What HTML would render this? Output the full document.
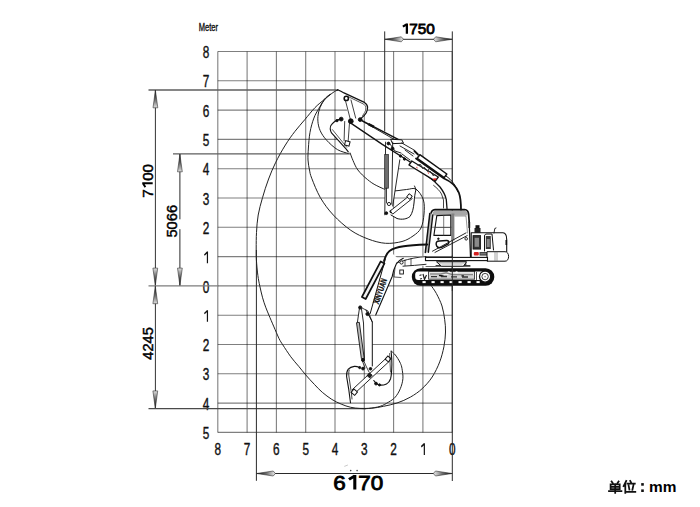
<!DOCTYPE html>
<html><head><meta charset="utf-8"><style>
html,body{margin:0;padding:0;background:#fff;}
svg{display:block;font-family:"Liberation Sans",sans-serif;}
</style></head><body>
<svg width="700" height="507" viewBox="0 0 700 507">
<defs><linearGradient id="ag" gradientUnits="userSpaceOnUse" x1="0" y1="0" x2="-17" y2="0"><stop offset="0" stop-color="#111"/><stop offset="0.45" stop-color="#555"/><stop offset="1" stop-color="#d8d8d8"/></linearGradient></defs>
<rect width="700" height="507" fill="#fff"/>
<line x1="452.20" y1="51.50" x2="452.20" y2="432.40" stroke="#000" stroke-opacity="0.5" stroke-width="1.1"/>
<line x1="422.90" y1="51.50" x2="422.90" y2="432.40" stroke="#000" stroke-opacity="0.5" stroke-width="1.1"/>
<line x1="393.60" y1="51.50" x2="393.60" y2="432.40" stroke="#000" stroke-opacity="0.5" stroke-width="1.1"/>
<line x1="364.30" y1="51.50" x2="364.30" y2="432.40" stroke="#000" stroke-opacity="0.5" stroke-width="1.1"/>
<line x1="335.00" y1="51.50" x2="335.00" y2="432.40" stroke="#000" stroke-opacity="0.5" stroke-width="1.1"/>
<line x1="305.70" y1="51.50" x2="305.70" y2="432.40" stroke="#000" stroke-opacity="0.5" stroke-width="1.1"/>
<line x1="276.40" y1="51.50" x2="276.40" y2="432.40" stroke="#000" stroke-opacity="0.5" stroke-width="1.1"/>
<line x1="247.10" y1="51.50" x2="247.10" y2="432.40" stroke="#000" stroke-opacity="0.5" stroke-width="1.1"/>
<line x1="217.80" y1="51.50" x2="217.80" y2="432.40" stroke="#000" stroke-opacity="0.5" stroke-width="1.1"/>
<line x1="217.80" y1="51.50" x2="452.20" y2="51.50" stroke="#000" stroke-opacity="0.5" stroke-width="1.1"/>
<line x1="217.80" y1="80.80" x2="452.20" y2="80.80" stroke="#000" stroke-opacity="0.5" stroke-width="1.1"/>
<line x1="217.80" y1="110.10" x2="452.20" y2="110.10" stroke="#000" stroke-opacity="0.5" stroke-width="1.1"/>
<line x1="217.80" y1="139.40" x2="452.20" y2="139.40" stroke="#000" stroke-opacity="0.5" stroke-width="1.1"/>
<line x1="217.80" y1="168.70" x2="452.20" y2="168.70" stroke="#000" stroke-opacity="0.5" stroke-width="1.1"/>
<line x1="217.80" y1="198.00" x2="452.20" y2="198.00" stroke="#000" stroke-opacity="0.5" stroke-width="1.1"/>
<line x1="217.80" y1="227.30" x2="452.20" y2="227.30" stroke="#000" stroke-opacity="0.5" stroke-width="1.1"/>
<line x1="217.80" y1="256.60" x2="452.20" y2="256.60" stroke="#000" stroke-opacity="0.5" stroke-width="1.1"/>
<line x1="217.80" y1="285.90" x2="452.20" y2="285.90" stroke="#000" stroke-opacity="0.5" stroke-width="1.1"/>
<line x1="217.80" y1="315.20" x2="452.20" y2="315.20" stroke="#000" stroke-opacity="0.5" stroke-width="1.1"/>
<line x1="217.80" y1="344.50" x2="452.20" y2="344.50" stroke="#000" stroke-opacity="0.5" stroke-width="1.1"/>
<line x1="217.80" y1="373.80" x2="452.20" y2="373.80" stroke="#000" stroke-opacity="0.5" stroke-width="1.1"/>
<line x1="217.80" y1="403.10" x2="452.20" y2="403.10" stroke="#000" stroke-opacity="0.5" stroke-width="1.1"/>
<line x1="217.80" y1="432.40" x2="452.20" y2="432.40" stroke="#000" stroke-opacity="0.5" stroke-width="1.1"/>
<g transform="translate(206.00,58.17) scale(0.72,1)"><text x="-4.56" y="0" font-size="16.4" font-weight="normal" fill="#111" stroke="#111" stroke-width="0.4">8</text></g>
<g transform="translate(206.00,87.47) scale(0.72,1)"><text x="-4.56" y="0" font-size="16.4" font-weight="normal" fill="#111" stroke="#111" stroke-width="0.4">7</text></g>
<g transform="translate(206.00,116.77) scale(0.72,1)"><text x="-4.56" y="0" font-size="16.4" font-weight="normal" fill="#111" stroke="#111" stroke-width="0.4">6</text></g>
<g transform="translate(206.00,146.07) scale(0.72,1)"><text x="-4.56" y="0" font-size="16.4" font-weight="normal" fill="#111" stroke="#111" stroke-width="0.4">5</text></g>
<g transform="translate(206.00,175.37) scale(0.72,1)"><text x="-4.56" y="0" font-size="16.4" font-weight="normal" fill="#111" stroke="#111" stroke-width="0.4">4</text></g>
<g transform="translate(206.00,204.67) scale(0.72,1)"><text x="-4.56" y="0" font-size="16.4" font-weight="normal" fill="#111" stroke="#111" stroke-width="0.4">3</text></g>
<g transform="translate(206.00,233.97) scale(0.72,1)"><text x="-4.56" y="0" font-size="16.4" font-weight="normal" fill="#111" stroke="#111" stroke-width="0.4">2</text></g>
<g transform="translate(206.00,263.27) scale(0.72,1)"><path d="M2.00,0 V-11.74 M2.00,-11.25 L-2.26,-8.20" stroke="#111" stroke-width="1.65" fill="none" stroke-linecap="butt" stroke-linejoin="round"/></g>
<g transform="translate(206.00,292.57) scale(0.72,1)"><text x="-4.56" y="0" font-size="16.4" font-weight="normal" fill="#111" stroke="#111" stroke-width="0.4">0</text></g>
<g transform="translate(206.00,321.87) scale(0.72,1)"><path d="M2.00,0 V-11.74 M2.00,-11.25 L-2.26,-8.20" stroke="#111" stroke-width="1.65" fill="none" stroke-linecap="butt" stroke-linejoin="round"/></g>
<g transform="translate(206.00,351.17) scale(0.72,1)"><text x="-4.56" y="0" font-size="16.4" font-weight="normal" fill="#111" stroke="#111" stroke-width="0.4">2</text></g>
<g transform="translate(206.00,380.47) scale(0.72,1)"><text x="-4.56" y="0" font-size="16.4" font-weight="normal" fill="#111" stroke="#111" stroke-width="0.4">3</text></g>
<g transform="translate(206.00,409.77) scale(0.72,1)"><text x="-4.56" y="0" font-size="16.4" font-weight="normal" fill="#111" stroke="#111" stroke-width="0.4">4</text></g>
<g transform="translate(206.00,439.07) scale(0.72,1)"><text x="-4.56" y="0" font-size="16.4" font-weight="normal" fill="#111" stroke="#111" stroke-width="0.4">5</text></g>
<g transform="translate(452.20,454.97) scale(0.72,1)"><text x="-4.56" y="0" font-size="16.4" font-weight="normal" fill="#111" stroke="#111" stroke-width="0.4">0</text></g>
<g transform="translate(422.90,454.97) scale(0.72,1)"><path d="M2.00,0 V-11.74 M2.00,-11.25 L-2.26,-8.20" stroke="#111" stroke-width="1.65" fill="none" stroke-linecap="butt" stroke-linejoin="round"/></g>
<g transform="translate(393.60,454.97) scale(0.72,1)"><text x="-4.56" y="0" font-size="16.4" font-weight="normal" fill="#111" stroke="#111" stroke-width="0.4">2</text></g>
<g transform="translate(364.30,454.97) scale(0.72,1)"><text x="-4.56" y="0" font-size="16.4" font-weight="normal" fill="#111" stroke="#111" stroke-width="0.4">3</text></g>
<g transform="translate(335.00,454.97) scale(0.72,1)"><text x="-4.56" y="0" font-size="16.4" font-weight="normal" fill="#111" stroke="#111" stroke-width="0.4">4</text></g>
<g transform="translate(305.70,454.97) scale(0.72,1)"><text x="-4.56" y="0" font-size="16.4" font-weight="normal" fill="#111" stroke="#111" stroke-width="0.4">5</text></g>
<g transform="translate(276.40,454.97) scale(0.72,1)"><text x="-4.56" y="0" font-size="16.4" font-weight="normal" fill="#111" stroke="#111" stroke-width="0.4">6</text></g>
<g transform="translate(247.10,454.97) scale(0.72,1)"><text x="-4.56" y="0" font-size="16.4" font-weight="normal" fill="#111" stroke="#111" stroke-width="0.4">7</text></g>
<g transform="translate(217.80,454.97) scale(0.72,1)"><text x="-4.56" y="0" font-size="16.4" font-weight="normal" fill="#111" stroke="#111" stroke-width="0.4">8</text></g>
<text transform="translate(208.40,30.75) scale(0.74,1)" text-anchor="middle" font-size="10.2" font-weight="normal" fill="#111" stroke="#111" stroke-width="0.35">Meter</text>
<line x1="148.5" y1="90.0" x2="338" y2="90.0" stroke="#5e5e5e" stroke-width="1.3"/>
<line x1="155.4" y1="90" x2="155.4" y2="408.7" stroke="#333" stroke-width="1.0"/>
<g transform="translate(155.4,90.3) rotate(-90.0)"><polygon points="0,0 -17.50,2.4 -17.50,-2.4" fill="url(#ag)" stroke="#333" stroke-width="0.6" stroke-linejoin="round"/></g>
<g transform="translate(155.3,285.6) rotate(90.0)"><polygon points="0,0 -17.50,2.4 -17.50,-2.4" fill="url(#ag)" stroke="#333" stroke-width="0.6" stroke-linejoin="round"/></g>
<line x1="173" y1="153.8" x2="350" y2="153.8" stroke="#5e5e5e" stroke-width="1.3"/>
<line x1="179.9" y1="154" x2="179.9" y2="219.3" stroke="#2a2a2a" stroke-width="1.0"/>
<line x1="179.9" y1="229.2" x2="179.9" y2="286" stroke="#2a2a2a" stroke-width="1.0"/>
<g transform="translate(179.9,154.3) rotate(-90.0)"><polygon points="0,0 -17.50,2.4 -17.50,-2.4" fill="url(#ag)" stroke="#333" stroke-width="0.6" stroke-linejoin="round"/></g>
<g transform="translate(179.9,285.6) rotate(90.0)"><polygon points="0,0 -17.50,2.4 -17.50,-2.4" fill="url(#ag)" stroke="#333" stroke-width="0.6" stroke-linejoin="round"/></g>
<line x1="148.5" y1="285.9" x2="217.8" y2="285.9" stroke="#7d7d7d" stroke-width="1.2"/>
<g transform="translate(155.3,286.2) rotate(-90.0)"><polygon points="0,0 -17.50,2.4 -17.50,-2.4" fill="url(#ag)" stroke="#333" stroke-width="0.6" stroke-linejoin="round"/></g>
<g transform="translate(155.3,408.4) rotate(90.0)"><polygon points="0,0 -17.50,2.4 -17.50,-2.4" fill="url(#ag)" stroke="#333" stroke-width="0.6" stroke-linejoin="round"/></g>
<line x1="148.5" y1="408.7" x2="366" y2="408.7" stroke="#4a4a4a" stroke-width="1.3"/>
<line x1="384.7" y1="31.4" x2="384.7" y2="131.5" stroke="#2a2a2a" stroke-width="1.0"/>
<line x1="452.3" y1="31.4" x2="452.3" y2="481" stroke="#2a2a2a" stroke-width="1.0"/>
<line x1="384.7" y1="39.3" x2="452.3" y2="39.3" stroke="#2a2a2a" stroke-width="1.0"/>
<g transform="translate(385.0,39.3) rotate(180.0)"><polygon points="0,0 -16.30,2.5 -18.50,0 -16.30,-2.5" fill="url(#ag)" stroke="#333" stroke-width="0.6" stroke-linejoin="round"/></g>
<g transform="translate(452.0,39.3) rotate(0.0)"><polygon points="0,0 -16.30,2.5 -18.50,0 -16.30,-2.5" fill="url(#ag)" stroke="#333" stroke-width="0.6" stroke-linejoin="round"/></g>
<line x1="256.4" y1="250" x2="256.4" y2="480.8" stroke="#2a2a2a" stroke-width="1.0"/>
<line x1="256.4" y1="473.5" x2="452.3" y2="473.5" stroke="#2a2a2a" stroke-width="1.0"/>
<g transform="translate(256.7,473.5) rotate(180.0)"><polygon points="0,0 -16.50,2.5 -18.70,0 -16.50,-2.5" fill="url(#ag)" stroke="#333" stroke-width="0.6" stroke-linejoin="round"/></g>
<g transform="translate(452.0,473.5) rotate(0.0)"><polygon points="0,0 -16.50,2.5 -18.70,0 -16.50,-2.5" fill="url(#ag)" stroke="#333" stroke-width="0.6" stroke-linejoin="round"/></g>
<g transform="translate(417.80,33.70) scale(1.08,1)"><path d="M-10.11,0 V-10.17 M-10.11,-9.54 L-13.80,-7.10" stroke="#000" stroke-width="2.10" fill="none" stroke-linecap="butt" stroke-linejoin="round"/><text x="-7.90" y="0" font-size="14.2" font-weight="normal" fill="#000" stroke="#000" stroke-width="0.75">7</text><text x="0.00" y="0" font-size="14.2" font-weight="normal" fill="#000" stroke="#000" stroke-width="0.75">5</text><text x="7.90" y="0" font-size="14.2" font-weight="normal" fill="#000" stroke="#000" stroke-width="0.75">0</text></g>
<g transform="translate(358.30,489.60) scale(1.1,1)"><text x="-22.68" y="0" font-size="20.4" font-weight="normal" fill="#000" stroke="#000" stroke-width="0.85">6</text><path d="M-3.18,0 V-14.61 M-3.18,-13.77 L-8.49,-10.20" stroke="#000" stroke-width="2.79" fill="none" stroke-linecap="butt" stroke-linejoin="round"/><text x="0.00" y="0" font-size="20.4" font-weight="normal" fill="#000" stroke="#000" stroke-width="0.85">7</text><text x="11.34" y="0" font-size="20.4" font-weight="normal" fill="#000" stroke="#000" stroke-width="0.85">0</text></g>
<g transform="translate(152.70,180.85) rotate(-90) scale(1.04,1)"><text x="-16.24" y="0" font-size="14.6" font-weight="normal" fill="#000" stroke="#000" stroke-width="0.45">7</text><path d="M-2.28,0 V-10.45 M-2.28,-9.90 L-6.07,-7.30" stroke="#000" stroke-width="1.84" fill="none" stroke-linecap="butt" stroke-linejoin="round"/><text x="0.00" y="0" font-size="14.6" font-weight="normal" fill="#000" stroke="#000" stroke-width="0.45">0</text><text x="8.12" y="0" font-size="14.6" font-weight="normal" fill="#000" stroke="#000" stroke-width="0.45">0</text></g>
<g transform="translate(177.30,221.25) rotate(-90) scale(1.05,1)"><text x="-15.57" y="0" font-size="14.0" font-weight="normal" fill="#000" stroke="#000" stroke-width="0.45">5</text><text x="-7.78" y="0" font-size="14.0" font-weight="normal" fill="#000" stroke="#000" stroke-width="0.45">0</text><text x="0.00" y="0" font-size="14.0" font-weight="normal" fill="#000" stroke="#000" stroke-width="0.45">6</text><text x="7.78" y="0" font-size="14.0" font-weight="normal" fill="#000" stroke="#000" stroke-width="0.45">6</text></g>
<g transform="translate(152.70,343.45) rotate(-90)"><text x="-16.24" y="0" font-size="14.6" font-weight="normal" fill="#000" stroke="#000" stroke-width="0.45">4</text><text x="-8.12" y="0" font-size="14.6" font-weight="normal" fill="#000" stroke="#000" stroke-width="0.45">2</text><text x="0.00" y="0" font-size="14.6" font-weight="normal" fill="#000" stroke="#000" stroke-width="0.45">4</text><text x="8.12" y="0" font-size="14.6" font-weight="normal" fill="#000" stroke="#000" stroke-width="0.45">5</text></g>
<text x="649.0" y="491.6" font-size="15.4" font-weight="bold" fill="#000" text-anchor="start">mm</text>
<g stroke="#111" stroke-width="1.75" fill="none" stroke-linecap="square"><path d="M611.6,481.4 L612.8,483.2 M618.6,481.4 L617.4,483.2"/><path d="M610.6,484.4 H619.7 V489.1 H610.6 Z M610.6,486.8 H619.7"/><path d="M609,491 H621.4 M615.2,484.4 V492.8"/><path d="M626.2,481 L623.6,486.2 M625.3,484.2 V492.9"/><path d="M630.2,480.8 L630.9,482.2 M627.4,483.5 H634.8 M628.6,485.4 L629.4,489.6 M633.4,485.2 L632.4,489.8 M626.9,491.8 H635.3"/></g>
<rect x="641.2" y="483.1" width="2.6" height="2.6" fill="#111"/><rect x="641.2" y="489.4" width="2.6" height="2.6" fill="#111"/>
<path d="M338.6,90.0 C338.0,90.2 336.3,90.4 334.7,91.4 C333.1,92.4 330.8,94.2 328.8,95.8 C326.8,97.3 325.1,98.7 322.8,100.7 C320.5,102.7 318.0,104.5 315.0,107.6 C312.0,110.7 308.3,115.5 305.0,119.4 C301.7,123.4 298.3,127.0 295.0,131.3 C291.7,135.6 288.6,139.8 285.4,145.0 C282.1,150.2 278.3,157.1 275.5,162.8 C272.7,168.5 270.8,173.2 268.6,179.0 C266.4,184.8 264.2,191.7 262.5,197.7 C260.8,203.7 259.2,209.2 258.2,215.0 C257.2,220.8 256.8,226.9 256.5,232.4 C256.2,237.9 256.2,243.4 256.2,248.0 C256.2,252.6 256.1,255.4 256.4,260.0 C256.7,264.6 257.3,271.4 257.9,275.7 C258.5,280.0 259.0,282.3 259.8,286.0 C260.6,289.7 261.6,294.3 262.6,297.8 C263.6,301.3 264.6,304.3 265.7,307.2 C266.8,310.1 267.6,312.0 268.9,315.1 C270.2,318.2 271.9,322.2 273.6,326.1 C275.3,330.0 277.6,335.6 279.1,338.7 C280.7,341.8 280.9,342.0 282.9,345.0 C284.8,348.0 288.2,353.2 290.8,356.8 C293.4,360.4 296.2,363.3 298.7,366.3 C301.2,369.3 303.2,372.0 305.8,375.0 C308.4,378.0 311.6,381.5 314.4,384.4 C317.1,387.3 319.4,389.8 322.3,392.3 C325.2,394.8 328.7,397.4 331.8,399.4 C334.9,401.4 338.1,402.8 341.2,404.1 C344.3,405.4 347.6,406.6 350.7,407.3 C353.8,408.0 356.5,408.2 360.0,408.4 C363.5,408.5 367.9,408.5 371.8,408.2 C375.7,407.9 379.3,407.2 383.5,406.3 C387.7,405.4 392.5,404.5 397.0,403.0 C401.5,401.5 406.2,399.5 410.4,397.1 C414.6,394.7 418.5,392.1 422.1,388.7 C425.7,385.3 429.3,381.5 432.2,377.0 C435.1,372.5 437.8,366.9 439.7,361.9 C441.6,356.9 442.9,351.8 443.9,346.8 C444.9,341.8 445.4,336.5 445.5,332.0 C445.6,327.5 445.3,324.0 444.7,319.7 C444.1,315.4 443.4,310.4 442.0,306.0 C440.6,301.6 438.2,297.0 436.4,293.5 C434.5,290.0 431.8,286.6 430.9,285.2" fill="none" stroke="#222" stroke-width="1"/>
<path d="M330.5,94.0 C329.9,94.5 327.8,95.9 326.6,97.0 C325.4,98.1 324.7,98.8 323.4,100.8 C322.1,102.8 320.3,105.8 318.7,108.7 C317.1,111.6 315.3,114.2 313.9,118.1 C312.4,122.0 310.9,127.3 310.0,132.3 C309.1,137.3 308.7,143.4 308.4,148.0 C308.1,152.6 307.8,156.3 308.0,160.0 C308.2,163.7 308.9,167.0 309.5,170.0 C310.1,173.0 309.9,173.6 311.7,178.2 C313.5,182.8 316.8,191.5 320.4,197.7 C324.0,203.8 328.3,209.7 333.4,215.1 C338.5,220.5 345.0,226.3 350.8,230.3 C356.6,234.3 362.3,236.8 368.1,239.0 C373.9,241.2 379.9,242.9 385.5,243.3 C391.1,243.7 397.4,242.7 402.0,241.5 C406.6,240.3 409.8,238.2 413.0,236.0 C416.2,233.8 419.2,231.7 421.0,228.0 C422.8,224.3 423.6,218.7 424.0,214.0 C424.4,209.3 424.7,204.1 423.4,200.0 C422.1,195.9 418.8,190.9 416.0,189.2 C413.2,187.4 410.8,189.2 406.6,189.5 C402.4,189.8 395.8,191.4 390.8,190.8 C385.8,190.2 380.7,187.6 376.8,185.7 C372.9,183.8 370.5,182.0 367.3,179.4 C364.1,176.8 360.3,173.2 357.9,170.0 C355.5,166.8 354.3,163.4 353.0,160.5 C351.7,157.6 350.5,153.9 350.0,152.6" fill="none" stroke="#222" stroke-width="1"/>
<path d="M330.5,94.5 C329.9,95.0 328.1,95.9 326.6,97.5 C325.2,99.1 323.1,101.5 321.8,103.9 C320.5,106.3 319.4,108.9 318.7,111.8 C318.0,114.7 317.6,118.1 317.9,121.2 C318.1,124.3 318.8,127.5 320.2,130.7 C321.6,133.9 323.7,137.0 326.6,140.2 C329.5,143.4 333.9,147.5 337.6,149.7 C341.3,151.9 346.8,152.9 348.6,153.6" fill="none" stroke="#222" stroke-width="1"/>
<path d="M391.1,351.0 C391.7,351.5 393.4,352.8 394.5,354.0 C395.6,355.2 396.8,356.9 397.8,358.5 C398.8,360.1 399.8,361.8 400.5,363.5 C401.2,365.2 401.6,366.1 402.0,368.6 C402.4,371.1 403.2,375.4 402.9,378.7 C402.6,382.0 401.6,385.6 400.3,388.7 C399.0,391.8 397.2,394.9 395.3,397.1 C393.4,399.3 391.1,400.6 388.6,402.1 C386.1,403.6 383.6,405.2 380.2,406.3 C376.8,407.4 371.8,408.1 368.4,408.5 C365.0,408.9 361.4,408.5 360.0,408.5" fill="none" stroke="#222" stroke-width="1"/>
<polygon points="401,140.6 417,154.8 446,175.4 453,183.4 458.4,195.8 459.6,210 447,210 446.3,199.6 440,187 428.3,176.5 409.4,161.5 398,154" fill="#fff" stroke="none"/>
<polygon points="337.6,89.7 344,92.9 364.4,102.4 367.6,107.6 366.3,112.8 360.5,118.9 350.8,121.2 345,104 340,93" fill="#fff" stroke="none"/>
<polygon points="341.2,119.1 336.4,120.5 331.5,124.6 330.2,128.8 331.5,132.9 346,148.8 348.3,151.8 350.5,147 351.5,122.5 346,120" fill="#fff" stroke="none"/>
<polygon points="385,142 393.5,142 400.5,157 392.5,206 394.5,216 385,216" fill="#fff" stroke="none"/>
<polygon points="416,189.5 414.5,197.4 412.9,210 410,216.5 404,219.5 397,218.5 391,215 411,197" fill="#fff" stroke="none"/>
<polygon points="389.5,251 386.4,254.3 384,261 380.5,266 363,297 360,305 361,312 370.2,313.5 375.7,315 392.3,276.2 395,268 398.6,261.4 396.4,257" fill="#fff" stroke="none"/>
<polygon points="398.6,261.4 406.4,258.2 425,255.7 425,265.7 399.3,265.7" fill="#fff" stroke="none"/>
<polygon points="359.7,306.5 357.5,321.7 362.3,358.5 365,366 372.3,368 372.3,322 366,310" fill="#fff" stroke="none"/>
<path d="M350.8,123.1 L382.3,144.4 L409.4,161.5 L428.3,176.5 C433,180 437.1,183.6 440,187 C443,191 445.5,195 446.3,199.6 L447,208.5" fill="none" stroke="#111" stroke-width="1.3" stroke-linejoin="round" stroke-linecap="round" />
<path d="M433.6,185.4 C437,188 440,191 441.5,194 L443.5,200 L443.5,208" fill="none" stroke="#111" stroke-width="0.8" stroke-linejoin="round" stroke-linecap="round" />
<path d="M360,119.6 L401,140.8" fill="none" stroke="#111" stroke-width="1.5" stroke-linejoin="round" stroke-linecap="round" />
<path d="M362.6,121.3 L398.7,142" fill="none" stroke="#111" stroke-width="0.9" stroke-linejoin="round" stroke-linecap="round" />
<path d="M369,123 L374.5,125.8 L373.5,128 L368,125.2 Z" fill="#111"/>
<path d="M391,139.3 L401.8,139.8 L403.5,143.2 L393,143.6 Z" fill="#fff" stroke="#111" stroke-width="1.0" stroke-linejoin="round" stroke-linecap="round" />
<path d="M401.8,143 L414.4,150.2 M400,146 L414,154" fill="none" stroke="#111" stroke-width="0.9" stroke-linejoin="round" stroke-linecap="round" />
<path d="M390,144 L395,151 L401,153" fill="none" stroke="#111" stroke-width="0.9" stroke-linejoin="round" stroke-linecap="round" />
<circle cx="392.5" cy="148.5" r="1.5" fill="#111" stroke="#111" stroke-width="0.9"/>
<polygon points="417.2,158.3 444.2,177.6 446.8,174.0 419.8,154.7" fill="#fff" stroke="#111" stroke-width="1.5" stroke-linejoin="round"/>
<path d="M414.4,151 L418,154.5 M416,158.5 L444,178.5 C450,181 456,186 458.8,192.5 C460.5,197 461,203 461,210" fill="none" stroke="#111" stroke-width="1.8" stroke-linejoin="round" stroke-linecap="round" />
<path d="M446,176 C452,180 456,186 458,192" fill="none" stroke="#111" stroke-width="1.0" stroke-linejoin="round" stroke-linecap="round" />
<circle cx="400.5" cy="156" r="1.2" fill="#111" stroke="#111" stroke-width="0.9"/>
<circle cx="404.5" cy="159" r="1.2" fill="#111" stroke="#111" stroke-width="0.9"/>
<polygon points="411.8,161 438.3,177 435.3,181.2 409,165" fill="#fff" stroke="#111" stroke-width="1.4" stroke-linejoin="round"/>
<path d="M417,165 L420.5,164.5 L423,169 M424,167 L427.5,171.5 L429,169 M430,171 L433.5,176 L435,174" stroke="#333" stroke-width="1.0" fill="none"/>
<path d="M433.2,179.4 L436.2,179.2" stroke="#e02020" stroke-width="1.8"/>
<path d="M416.3,167.2 L417.6,168 M427.8,172.6 L429,173.4" stroke="#e02020" stroke-width="1.0"/>
<path d="M405,150 L413,156 M402,154 L410,160" fill="none" stroke="#111" stroke-width="0.9" stroke-linejoin="round" stroke-linecap="round" />
<path d="M337.6,89.7 C339.5,90.5 341.8,91.6 344,92.9 L364.4,102.4 C366.5,103.8 367.8,105.5 367.6,107.6 C367.5,110 367,111.5 366.3,112.8 C365.3,114.6 363.6,116.5 360.5,118.9" fill="none" stroke="#111" stroke-width="1.2" stroke-linejoin="round" stroke-linecap="round" />
<path d="M348.6,96.8 L363.8,104.2 C365.3,105.5 366,107 365.8,109 C365.5,111.5 364.3,113.5 362.6,115.5" fill="none" stroke="#111" stroke-width="0.7" stroke-linejoin="round" stroke-linecap="round" />
<path d="M345.5,100.8 L350.2,118.9 M351,100 L355.7,118.1" fill="none" stroke="#111" stroke-width="0.8" stroke-linejoin="round" stroke-linecap="round" />
<circle cx="346.3" cy="98.4" r="2.1" fill="#fff" stroke="#111" stroke-width="1.6"/>
<circle cx="350.8" cy="121.2" r="2.4" fill="#111" stroke="#111" stroke-width="0.9"/>
<circle cx="337" cy="120.6" r="1.2" fill="#111" stroke="#111" stroke-width="0.9"/>
<circle cx="360.2" cy="119.6" r="1.9" fill="#111" stroke="#111" stroke-width="0.9"/>
<path d="M341.2,119.1 C339.5,119.4 338,119.8 336.4,120.5 C334.5,121.5 332.8,123 331.5,124.6 C330.3,126 330,127.5 330.2,128.8 C330.4,130.3 330.8,131.6 331.5,132.9 L346,148.8 L348.3,151.8" fill="none" stroke="#111" stroke-width="1.1" stroke-linejoin="round" stroke-linecap="round" />
<path d="M332.4,129.6 L346.7,147.2" fill="none" stroke="#111" stroke-width="0.7" stroke-linejoin="round" stroke-linecap="round" />
<path d="M344.7,121.5 L344.1,140.8 M349.5,122.8 L348.2,140.8" fill="none" stroke="#111" stroke-width="0.8" stroke-linejoin="round" stroke-linecap="round" />
<rect x="345" y="141.2" width="4.6" height="4.4" fill="#fff" stroke="#111" stroke-width="1" transform="rotate(15 347.3 143.4)"/>
<circle cx="341.2" cy="119.1" r="1.9" fill="#111" stroke="#111" stroke-width="0.9"/>
<path d="M385.6,142.1 L384.8,214.8" fill="none" stroke="#111" stroke-width="0.9" stroke-linejoin="round" stroke-linecap="round" />
<path d="M392.7,142.1 L391.8,204.2" fill="none" stroke="#111" stroke-width="0.9" stroke-linejoin="round" stroke-linecap="round" />
<rect x="384.7" y="154.5" width="3.7" height="33.7" fill="#6e6e6e" stroke="#222" stroke-width="0.7"/>
<path d="M386.5,188.2 L386.5,203" fill="none" stroke="#111" stroke-width="0.8" stroke-linejoin="round" stroke-linecap="round" />
<path d="M399.8,159.8 L392.7,206" fill="none" stroke="#111" stroke-width="0.9" stroke-linejoin="round" stroke-linecap="round" />
<circle cx="389" cy="204" r="1.6" fill="#fff" stroke="#111" stroke-width="0.9"/>
<circle cx="386.3" cy="213.2" r="1.4" fill="#111" stroke="#111" stroke-width="0.9"/>
<circle cx="391.2" cy="211.5" r="1.3" fill="#111" stroke="#111" stroke-width="0.9"/>
<circle cx="388.5" cy="143.5" r="1.4" fill="#111" stroke="#111" stroke-width="0.9"/>
<polygon points="392.7,214.1 412.2,198.6 409.8,195.4 390.3,210.9" fill="#fff" stroke="#111" stroke-width="0.9" stroke-linejoin="round"/>
<path d="M416,189.5 C415,193 414.5,197 414,203 C413.5,208 412.5,213 410,216.5 C407,219 402,220 397,218.5 L391,215" fill="none" stroke="#111" stroke-width="1.0" stroke-linejoin="round" stroke-linecap="round" />
<rect x="407.5" y="194.5" width="4" height="4" fill="#fff" stroke="#111" stroke-width="0.9" transform="rotate(35 409.5 196.5)"/>
<path d="M416,189.5 L414.5,186" fill="none" stroke="#111" stroke-width="0.9" stroke-linejoin="round" stroke-linecap="round" />
<path d="M432.5,213 C433,211.3 434,210.6 436,210.5 L464,210.3 C466,210.4 467,211.5 467.5,213.5 L467.2,215.5 L433.5,215.5 Z" fill="#a8a8a8"/>
<path d="M430.8,214.5 C431.2,211 432.5,209.8 435,209.7 L464.5,209.5 C467,209.6 468.3,211 468.6,214 L469.2,222" fill="none" stroke="#111" stroke-width="1.7" stroke-linejoin="round" stroke-linecap="round" />
<path d="M469.2,222 L470.5,257" fill="none" stroke="#111" stroke-width="1.2" stroke-linejoin="round" stroke-linecap="round" />
<path d="M429.5,213 L432.6,214 L428.2,252.5 L425.2,252.5 Z" fill="#bbb"/>
<path d="M429.8,213.5 L425.3,252.5" fill="none" stroke="#111" stroke-width="1.5" stroke-linejoin="round" stroke-linecap="round" />
<path d="M432.8,215 L428.4,252.2" fill="none" stroke="#111" stroke-width="1.4" stroke-linejoin="round" stroke-linecap="round" />
<path d="M436.8,215.6 L450.8,215 L450.8,235.4 L433.9,235.4 Z" fill="none" stroke="#111" stroke-width="1.1" stroke-linejoin="round" stroke-linecap="round" />
<path d="M443.7,215.3 L443.7,235.2 M435.3,227.5 L450.6,227.5" fill="none" stroke="#444" stroke-width="0.7" stroke-linejoin="round" stroke-linecap="round" />
<rect x="451.4" y="213.5" width="3" height="27" fill="#808080"/>
<path d="M455,216 L466,216 L467.5,233" fill="none" stroke="#555" stroke-width="0.6" stroke-linejoin="round" stroke-linecap="round" />
<path d="M432.5,251.2 L466,232.9 M435,252.4 L467.2,235.6" fill="none" stroke="#111" stroke-width="0.9" stroke-linejoin="round" stroke-linecap="round" />
<path d="M436.2,244.5 C435.8,242 437.3,240.8 439.5,241 L446.5,240.6 C448.5,240.5 449.6,242 448.3,243.8 L441.5,247.4 C438.5,248.4 436.5,247 436.2,244.5 Z" fill="none" stroke="#111" stroke-width="1.5" stroke-linejoin="round" stroke-linecap="round" />
<circle cx="438.4" cy="238.8" r="0.8" fill="#111" stroke="#111" stroke-width="0.9"/>
<circle cx="466.2" cy="238.8" r="1.3" fill="#fff" stroke="#111" stroke-width="0.9"/>
<rect x="468.4" y="222" width="1.8" height="6" fill="#222"/>
<path d="M471.2,257 L471.2,232.8 L503,232.8 C505.5,233 506.7,236 506.7,239.5 L506.7,251.7" fill="none" stroke="#111" stroke-width="1.1" stroke-linejoin="round" stroke-linecap="round" />
<rect x="473" y="235.6" width="7.6" height="13.5" fill="#333" stroke="#111" stroke-width="0.8"/>
<rect x="474.6" y="237.8" width="4.4" height="9" fill="#8a8a8a"/>
<path d="M484.5,251 L484.5,236 C484.5,234.5 485.5,234 487,234 L492,234 L493.5,250" fill="none" stroke="#111" stroke-width="1.0" stroke-linejoin="round" stroke-linecap="round" />
<rect x="485.8" y="236" width="5" height="13" fill="#3a3a3a"/>
<rect x="486.8" y="239" width="3" height="8" fill="#888"/>
<rect x="474.5" y="228" width="6" height="5" fill="#222"/>
<rect x="475.5" y="225.2" width="4" height="3" fill="#111"/>
<path d="M494,233 L494.8,228.5 L496,228" fill="none" stroke="#111" stroke-width="0.9" stroke-linejoin="round" stroke-linecap="round" />
<rect x="505.5" y="240" width="1.6" height="5" fill="#111"/>
<rect x="473.8" y="252" width="5" height="3.6" rx="1" fill="#d42020"/>
<rect x="479.5" y="252" width="12" height="3.6" fill="#444"/>
<path d="M480.5,253.8 L491,253.8" stroke="#bbb" stroke-width="0.6"/>
<path d="M487,251.7 L505,251.7 C507.5,251.7 508.6,254 508.6,256.4 C508.6,259 507.5,261.2 505,261.2 L487,261.2 Z" fill="#fff" stroke="#111" stroke-width="1.0"/>
<path d="M495,252 L495,261 M497,252 L497,261" fill="none" stroke="#666" stroke-width="0.6" stroke-linejoin="round" stroke-linecap="round" />
<rect x="425.5" y="257.4" width="62" height="3.2" fill="#fff" stroke="#111" stroke-width="1.1"/>
<rect x="440" y="261.5" width="26" height="3.5" fill="#777" stroke="#222" stroke-width="0.6"/>
<path d="M436,265.5 L470,265.5" fill="none" stroke="#111" stroke-width="0.8" stroke-linejoin="round" stroke-linecap="round" />
<rect x="411.8" y="268.2" width="82.5" height="17.5" rx="8.7" fill="#0d0d0d"/>
<rect x="415.2" y="271.4" width="74" height="8.6" rx="3" fill="#fff"/>
<rect x="428.6" y="271.4" width="46" height="7.8" fill="#d4d4d4" stroke="#222" stroke-width="0.8"/>
<rect x="429.5" y="272.4" width="44" height="2.6" fill="#f4f4f4"/>
<circle cx="448.8" cy="272.8" r="1.5" fill="#fff" stroke="#111" stroke-width="0"/>
<circle cx="456.6" cy="272.8" r="1.5" fill="#fff" stroke="#111" stroke-width="0"/>
<path d="M439,275.3 L443.5,276.3 M461.5,275.8 L464,276" stroke="#111" stroke-width="1.6"/>
<path d="M430,274 L441,274 L446,272.8 L452,274.5 L473,274.5" stroke="#888" stroke-width="1.4" fill="none"/>
<path d="M431,276.6 L437,276.6 M441,276.5 L447,276.5 M451,276.8 L457,276.8 M462,277 L468,277" stroke="#333" stroke-width="1.3" fill="none"/>
<circle cx="485.1" cy="276.6" r="5.6" fill="#fff" stroke="#111" stroke-width="1.3"/>
<circle cx="485.1" cy="276.6" r="3.2" fill="#fff" stroke="#111" stroke-width="0.8"/>
<circle cx="485.1" cy="276.6" r="0.9" fill="#999" stroke="#111" stroke-width="0"/>
<path d="M476.5,272 L476.5,280" stroke="#222" stroke-width="0.8"/>
<path d="M419.5,275.5 L421.5,274.8 M423,274 L424.5,279.5 L426.5,275 M420,279 L422,278.5" stroke="#222" stroke-width="1.2" fill="none"/>
<rect x="422.5" y="281.1" width="3.2" height="2.0" fill="#fff"/>
<rect x="431.5" y="281.1" width="3.2" height="2.0" fill="#fff"/>
<rect x="440.5" y="281.1" width="3.2" height="2.0" fill="#fff"/>
<rect x="449.5" y="281.1" width="3.2" height="2.0" fill="#fff"/>
<rect x="458.5" y="281.1" width="3.2" height="2.0" fill="#fff"/>
<rect x="467.5" y="281.1" width="3.2" height="2.0" fill="#fff"/>
<rect x="476.5" y="281.1" width="3.2" height="2.0" fill="#fff"/>
<path d="M436.5,261.8 L466.5,261.8 L463.4,266.3 L441.6,266.3 Z" fill="#fff" stroke="#111" stroke-width="1.0"/>
<path d="M439,263.2 L464,263.2 M441.5,264.9 L462.5,264.9" stroke="#999" stroke-width="0.6"/>
<path d="M426,266.5 L470,266.5" fill="none" stroke="#444" stroke-width="0.8" stroke-linejoin="round" stroke-linecap="round" />
<path d="M427.3,244.5 C420,244.8 410,245.3 403.7,246.2 C398,247 393,248.3 389.5,251 C387,253 385.5,256 384,261" fill="none" stroke="#111" stroke-width="1.9" stroke-linejoin="round" stroke-linecap="round" />
<polygon points="380.7,261.4 361.9,297.0 365.7,299.0 384.5,263.4" fill="#f2f2f2" stroke="#111" stroke-width="1.7" stroke-linejoin="round"/>
<path d="M385.2,259.5 L370.2,313.5" fill="none" stroke="#111" stroke-width="1.0" stroke-linejoin="round" stroke-linecap="round" />
<path d="M403.3,258.3 C399.5,260 397.5,262 396.4,263.8 C394.5,267.5 393.2,271 392.3,276.2 L375.7,315" fill="none" stroke="#111" stroke-width="1.1" stroke-linejoin="round" stroke-linecap="round" />
<path d="M401,261.5 C410,258.5 418,257 426,256.6 M403,266.2 C411,265.8 418,265 426,264.3" fill="none" stroke="#111" stroke-width="0.9" stroke-linejoin="round" stroke-linecap="round" />
<path d="M405,260 L405,265.5 M411,258.6 L411,265.6" fill="none" stroke="#111" stroke-width="0.7" stroke-linejoin="round" stroke-linecap="round" />
<path d="M396.5,263 C399,262 401,262 402.5,263" fill="none" stroke="#111" stroke-width="0.8" stroke-linejoin="round" stroke-linecap="round" />
<circle cx="401.5" cy="262.5" r="1.6" fill="#fff" stroke="#111" stroke-width="0.9"/>
<rect x="399.8" y="270" width="3.6" height="4" fill="#fff" stroke="#111" stroke-width="0.9"/>
<path d="M395,268 L394,277 L401,277.5" fill="none" stroke="#111" stroke-width="0.7" stroke-linejoin="round" stroke-linecap="round" />
<text transform="translate(378.6,304.6) rotate(-71) scale(0.68,1)" font-size="8.6" font-weight="bold" fill="#111" stroke="#111" stroke-width="0.3">XINYUAN</text>
<path d="M359.7,306.5 L357.5,321.7 M361.5,309 L363.5,323 L364.5,360" fill="none" stroke="#111" stroke-width="0.9" stroke-linejoin="round" stroke-linecap="round" />
<polygon points="356.5,322.7 361.4,358.7 364.2,358.3 359.3,322.3" fill="#bbb" stroke="#111" stroke-width="0.9" stroke-linejoin="round"/>
<path d="M366,310 L372.3,322 L372.3,366" fill="none" stroke="#111" stroke-width="1.0" stroke-linejoin="round" stroke-linecap="round" />
<path d="M362,308 L368,311 L372.3,322" fill="none" stroke="#111" stroke-width="0.8" stroke-linejoin="round" stroke-linecap="round" />
<circle cx="360.2" cy="307.5" r="1.6" fill="#111" stroke="#111" stroke-width="0.9"/>
<circle cx="367.5" cy="314" r="1.6" fill="#111" stroke="#111" stroke-width="0.9"/>
<path d="M363,359 L366,366 L369,372 M362,360 L365,368" fill="none" stroke="#111" stroke-width="0.8" stroke-linejoin="round" stroke-linecap="round" />
<circle cx="363" cy="360" r="1.5" fill="#111" stroke="#111" stroke-width="0.9"/>
<polygon points="355.0,393.1 389.5,361.1 386.5,357.9 352.0,389.9" fill="#fff" stroke="#111" stroke-width="0.9" stroke-linejoin="round"/>
<rect x="352" y="390" width="4.6" height="4.4" fill="#fff" stroke="#111" stroke-width="1" transform="rotate(40 354.3 392.2)"/>
<rect x="386" y="356.8" width="4.2" height="4.2" fill="#fff" stroke="#111" stroke-width="1" transform="rotate(40 388.1 358.9)"/>
<rect x="367.8" y="373.6" width="3.6" height="3.6" fill="#222" stroke="#111" stroke-width="0.8" transform="rotate(40 369.6 375.4)"/>
<path d="M359.7,367.5 C357.5,366.6 355.8,366.2 354.3,366.4 C351.5,366.8 349.8,367.6 348.3,369.2 C346.8,371 346.4,373 346.6,376.5 L348.8,389.7 L350.5,402.7" fill="none" stroke="#111" stroke-width="1.1" stroke-linejoin="round" stroke-linecap="round" />
<path d="M349.2,370 C348.6,372 348.6,374.5 349,377 L351.4,393 L352,399" fill="none" stroke="#111" stroke-width="0.8" stroke-linejoin="round" stroke-linecap="round" />
<circle cx="363" cy="368.6" r="1.4" fill="#111" stroke="#111" stroke-width="0.9"/>
<circle cx="359.7" cy="367.6" r="1.1" fill="#111" stroke="#111" stroke-width="0.9"/>
<path d="M391.1,351 C391.6,356 391.9,360 391.9,364 C391.8,370 391.5,375 390.6,378.7 C389.5,381.8 387.8,383.3 386.5,383.9 C384,385 381,385.5 378.5,384.8 C376.5,384 375,382.5 373.8,380.5" fill="none" stroke="#111" stroke-width="1.1" stroke-linejoin="round" stroke-linecap="round" />
<path d="M389.6,353.5 L390.5,372" fill="none" stroke="#111" stroke-width="0.7" stroke-linejoin="round" stroke-linecap="round" />
<circle cx="376" cy="383.6" r="1.4" fill="#111" stroke="#111" stroke-width="0.9"/>
<circle cx="379.5" cy="384.9" r="1.1" fill="#111" stroke="#111" stroke-width="0.9"/>
<circle cx="370.5" cy="368.8" r="1.3" fill="#111" stroke="#111" stroke-width="0.9"/>
<circle cx="350.7" cy="470.6" r="0.8" fill="#444"/><circle cx="357.1" cy="470.6" r="0.8" fill="#444"/><path d="M344.3,466.4 L347.9,465" stroke="#bbb" stroke-width="0.8"/>
<line x1="452.3" y1="255.5" x2="452.3" y2="291" stroke="#2a2a2a" stroke-width="1.0"/>
</svg>
</body></html>
